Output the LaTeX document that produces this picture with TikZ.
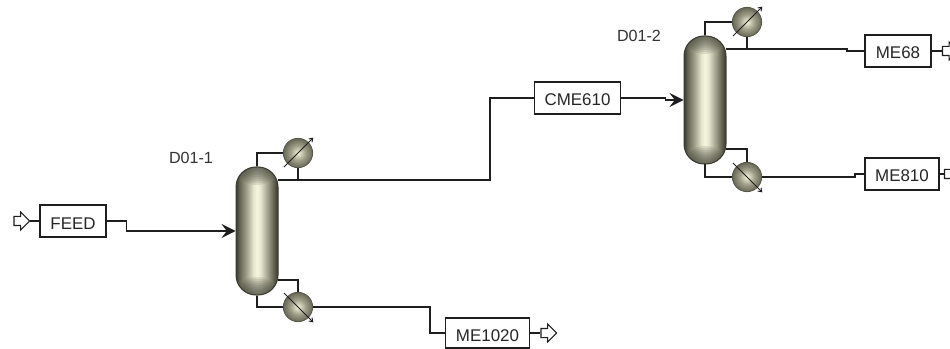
\documentclass[tikz,border=0pt]{standalone}
\usepackage{fontspec}
\setmainfont{Liberation Sans}
\usepackage{tikz}
\usetikzlibrary{shapes,arrows.meta}
\definecolor{pipe}{RGB}{30, 30, 30}
\definecolor{shell}{RGB}{58, 58, 46}
\definecolor{shellmid}{RGB}{158, 158, 136}
\definecolor{shelltop}{RGB}{245, 245, 222}
\pgfdeclarehorizontalshading{vessel}{100bp}{
  color(0bp)=(shell); color(25bp)=(shell); color(29bp)=(shell!60!shellmid); color(37bp)=(shellmid);
  color(46bp)=(shelltop!85!shellmid); color(50bp)=(shelltop); color(54bp)=(shelltop!85!shellmid);
  color(63bp)=(shellmid); color(71bp)=(shell!70!shellmid); color(75bp)=(shell); color(100bp)=(shell)}
\pgfdeclareradialshading{drum}{\pgfpoint{0bp}{0bp}}{
  color(0bp)=(shelltop); color(13bp)=(shellmid); color(25bp)=(shell!55!shellmid); color(50bp)=(shell!55!shellmid)}
\tikzset{
  column/.style={draw=shell, line width=0.75pt, rounded corners=15pt, shading=vessel,
    minimum width=31.5pt, minimum height=96pt, inner sep=0pt,
    path picture={
      \foreach \h in {1.5,3,...,13.5} {
        \fill[shell, opacity=0.12] (path picture bounding box.north west) rectangle ++(31.5pt,-\h pt);
        \fill[shell, opacity=0.12] (path picture bounding box.south west) rectangle ++(31.5pt,\h pt);
      }
    }},
  hex/.style={circle, draw=shell!70!shellmid, line width=0.6pt, shading=drum, minimum size=22pt, inner sep=0pt},
  block/.style={draw=pipe, fill=white, line width=0.9pt, minimum height=24pt, inner sep=0pt,
    text height=12pt, text depth=0pt, font=\fontsize{12.7}{14}\selectfont, text=black!85},
  port/.style={single arrow, draw=pipe, fill=white, line width=0.8pt, inner sep=0pt, inner ysep=3pt,
    minimum height=11.7pt, single arrow head extend=3.25pt, single arrow tip angle=90},
  tag/.style={font=\fontsize{12.1}{14}\selectfont, text=black!80},
  stream/.style={draw=pipe, line width=0.9pt},
  feedline/.style={stream, -{Stealth[length=10.5pt, width=10.5pt, inset=4pt]}},
  util/.style={draw=pipe, line width=0.7pt, -{Straight Barb[length=2.5pt, width=3.5pt]}}
}
\begin{document}
\begin{tikzpicture}[x=0.75pt, y=-0.75pt]
  \useasboundingbox[fill=white] (0,0) rectangle (950,349);
  % columns
  \node[column] (d011) at (257,231) {};
  \node[column] (d012) at (705,100) {};
  \node[hex] (con1) at (298,153) {};
  \node[hex] (reb1) at (298,307) {};
  \node[hex] (con2) at (747,22) {};
  \node[hex] (reb2) at (747,177) {};
  \node[tag] (lab1) at (191,158) {D01-1};
  \node[tag] (lab2) at (639,36) {D01-2};

  % stream blocks
  \node[block, minimum width=49.5pt] (feed) at (73,221) {FEED};
  \node[block, minimum width=65pt] (cme610) at (577.5,98) {CME610};
  \node[block, minimum width=49.5pt] (me68) at (898,51) {ME68};
  \node[block, minimum width=55.5pt] (me810) at (902,174) {ME810};
  \node[block, minimum width=62.5pt, minimum height=22.5pt] (me1020) at (487.5,333) {ME1020};
  \node[port] (feedin) at (19.5,221) {};
  \node[port] (out1020) at (546.5,333) {};
  \node[port] (out68) at (948,51) {};
  \node[port] (out810) at (950,174) {};

  % nozzle points on the vessels
  \coordinate (top1) at (278,180);
  \coordinate (ret1) at (298,180);
  \coordinate (btm1) at (278,280);
  \coordinate (top2) at (726,49);
  \coordinate (ret2) at (747,49);
  \coordinate (btm2) at (726,149);

  \draw[stream] (feedin.east) -- (feed.west);
  \draw[feedline] (feed.east) -- ++(20,0) |- (d011.west);
  \draw[stream] (top1) -- ++(212,0) |- (cme610.west);
  \draw[feedline] (cme610.east) -- ++(44,0) |- (d012.west);
  \draw[stream] (top2) -- ++(121,0) -- ++(0,2) -- (me68.west);
  \draw[stream] (reb2.east) -- ++(93,0) -- ++(0,-3) -- (me810.west);
  \draw[stream] (reb1.east) -- ++(117,0) |- (me1020.west);
  \draw[stream] (me1020.east) -- (out1020.west);
  \draw[stream] (me68.east) -- (out68.west);
  \draw[stream] (me810.east) -- (out810.west);

  % condenser and reboiler loops
  \draw[stream] (d011.north) |- (con1.west);
  \draw[stream] (con1.south) -- (ret1);
  \draw[stream] (d011.south) |- (reb1.west);
  \draw[stream] (btm1) -| (reb1.north);
  \draw[stream] (d012.north) |- (con2.west);
  \draw[stream] (con2.south) -- (ret2);
  \draw[stream] (d012.south) |- (reb2.west);
  \draw[stream] (btm2) -| (reb2.north);

  % utility arrows across the exchangers
  \draw[util] ([shift={(-10.5pt,-10.5pt)}]con1.center) -- ([shift={(11.5pt,11.5pt)}]con1.center);
  \draw[util] ([shift={(-10.5pt,-10.5pt)}]con2.center) -- ([shift={(11.5pt,11.5pt)}]con2.center);
  \draw[util] ([shift={(-10.5pt,10.5pt)}]reb1.center) -- ([shift={(11.5pt,-11.5pt)}]reb1.center);
  \draw[util] ([shift={(-10.5pt,10.5pt)}]reb2.center) -- ([shift={(11.5pt,-11.5pt)}]reb2.center);
\end{tikzpicture}
\end{document}
